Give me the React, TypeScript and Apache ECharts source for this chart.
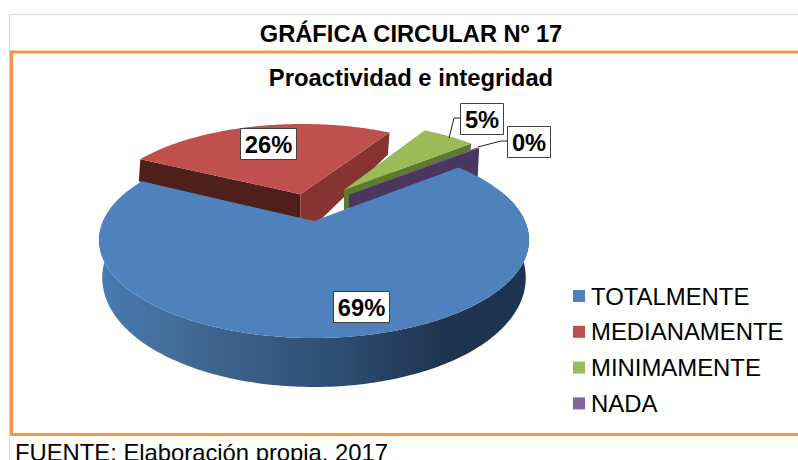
import React, { useEffect, useRef } from "react";
import * as echarts from "echarts";

const categories = ["TOTALMENTE", "MEDIANAMENTE", "MINIMAMENTE", "NADA"];
const values = [68.6, 26.0, 5.2, 0.2];
const colors = ["#4F81BD", "#C0504D", "#9BBB59", "#8064A2"];
const FONT = '"Liberation Sans", Arial, sans-serif';

// perspective disc -> screen
const CX = 314, CY = 221, RX0 = 210.9, RY0 = 94.3, K = 0.194;
const FIRST_ANGLE = 50.3;
const D2R = Math.PI / 180;

const project = (u: number, v: number) => {
  const d = 1 + K * v;
  return [CX + (RX0 * u) / d, CY - (RY0 * v) / d];
};
const projectBottom = (u: number, v: number) => {
  const d = 1 + K * v;
  const h = 35 - 14 * v;
  return [CX + (0.985 * RX0 * u) / d, CY - (RY0 * v) / d + h];
};

const total = values.reduce((a, b) => a + b, 0);
const angleRanges: number[][] = [];
values.reduce((acc, val) => {
  const next = acc + (val / total) * 360;
  angleRanges.push([acc, next]);
  return next;
}, FIRST_ANGLE);

// look of each slice (explosion in disc units, radial size, wall drops)
const sliceLook = [
  { ox: 0, oy: 0, r: 1 },
  { ox: -0.068, oy: 0.3, r: 0.985, tipDrop: 22, apexDrop: 45, startWall: "#4F1F1C", endWall: "#863331" },
  { ox: 0.152, oy: 0.351, r: 0.965, tipDrop: 18, apexDrop: 20, startWall: "#5E7A30", endWall: "#5E7A30" },
  { ox: 0.175, oy: 0.291, r: 0.97, tipDrop: 30, apexDrop: 30, startWall: "#4B3660", endWall: "#4B3660" },
];

const labelBoxes = [
  { x: 333, y: 291, w: 56, h: 31 },
  { x: 240, y: 128, w: 56, h: 31 },
  { x: 460, y: 103, w: 43, h: 31 },
  { x: 507, y: 126, w: 43, h: 31 },
];
const leaders: number[][][] = [
  [],
  [],
  [[460, 118], [454, 118], [449, 138]],
  [[507, 141], [501, 141], [478, 147]],
];

const arcPoints = (i: number, proj: (u: number, v: number) => number[]) => {
  const [a0, a1] = angleRanges[i];
  const L = sliceLook[i];
  const pts: number[][] = [];
  const steps = Math.max(2, Math.ceil(a1 - a0));
  for (let s = 0; s <= steps; s++) {
    const a = (a0 + ((a1 - a0) * s) / steps) * D2R;
    pts.push(proj(L.ox + L.r * Math.sin(a), L.oy + L.r * Math.cos(a)));
  }
  return pts;
};

const wall = (apex: number[], tip: number[], tipDrop: number, apexDrop: number, fill: string) => ({
  type: "polygon",
  shape: {
    points: [apex, tip, [tip[0] - 1.5, tip[1] + tipDrop], [apex[0], apex[1] + apexDrop]],
  },
  style: { fill },
  silent: true,
});

const renderSlice = (i: number) => () => {
  const L: any = sliceLook[i];
  const top = arcPoints(i, project);
  const apex = project(L.ox, L.oy);
  const children: any[] = [];

  if (i === 0) {
    const bottom = arcPoints(i, projectBottom);
    // only the near part of the rim is seen
    const [a0, a1] = angleRanges[0];
    const n = top.length - 1;
    const from = Math.round(((70 - a0) / (a1 - a0)) * n);
    const to = Math.round(((290 - a0) / (a1 - a0)) * n);
    children.push({
      type: "polygon",
      shape: {
        points: [...top.slice(from, to + 1), ...bottom.slice(from, to + 1).reverse()],
      },
      style: {
        fill: new echarts.graphic.LinearGradient(0, 0, 1, 0, [
          { offset: 0, color: "#4B7BB3" },
          { offset: 0.25, color: "#3F668F" },
          { offset: 0.55, color: "#2E4D73" },
          { offset: 0.8, color: "#1F3450" },
          { offset: 1, color: "#1E3350" },
        ]),
      },
      silent: true,
    });
  } else {
    const tipStart = top[0];
    const tipEnd = top[top.length - 1];
    children.push(wall(apex, tipStart, L.tipDrop, L.apexDrop, L.startWall));
    children.push(wall(apex, tipEnd, L.tipDrop, L.apexDrop, L.endWall));
  }

  children.push({
    type: "polygon",
    shape: { points: [apex, ...top] },
    style: { fill: colors[i] },
    silent: true,
  });

  if (leaders[i].length) {
    children.push({
      type: "polyline",
      shape: { points: leaders[i] },
      style: { fill: "none", stroke: "#222222", lineWidth: 1 },
      silent: true,
    });
  }

  const b = labelBoxes[i];
  children.push({
    type: "rect",
    shape: { x: b.x + 0.5, y: b.y + 0.5, width: b.w, height: b.h },
    style: { fill: "#FFFFFF", stroke: "#404040", lineWidth: 1 },
    silent: true,
  });
  children.push({
    type: "text",
    style: {
      x: b.x + b.w / 2 + 0.5,
      y: b.y + b.h / 2 + 1,
      text: `${Math.round(values[i])}%`,
      fill: "#000000",
      font: `bold 23.7px ${FONT}`,
      align: "center",
      verticalAlign: "middle",
    },
    silent: true,
  });
  return { type: "group", children };
};

export default function App() {
  const ref = useRef<HTMLDivElement>(null);
  useEffect(() => {
    document.body.style.margin = "0";
    const chart = echarts.init(ref.current!, null, { renderer: "svg" });
    const drawOrder = [1, 2, 3, 0];
    chart.setOption({
      animation: false,
      backgroundColor: "#FFFFFF",
      textStyle: { fontFamily: FONT },
      title: [
        {
          text: "GRÁFICA CIRCULAR Nº 17",
          left: 411,
          top: 34,
          textAlign: "center",
          textVerticalAlign: "middle",
          textStyle: { fontFamily: FONT, fontSize: 23.7, fontWeight: "bold", color: "#000000" },
          padding: 0,
        },
        {
          text: "Proactividad e integridad",
          left: 411,
          top: 77,
          textAlign: "center",
          textVerticalAlign: "middle",
          textStyle: { fontFamily: FONT, fontSize: 23.8, fontWeight: "bold", color: "#000000" },
          padding: 0,
        },
      ],
      legend: {
        orient: "vertical",
        left: 573,
        top: 282,
        padding: 0,
        itemWidth: 12,
        itemHeight: 12,
        itemGap: 7.8,
        icon: "rect",
        selectedMode: false,
        data: categories,
        textStyle: { fontFamily: FONT, fontSize: 23.9, color: "#000000", padding: [0, 0, 0, 1], lineHeight: 28 },
      },
      graphic: [
        { type: "line", shape: { x1: 9.5, y1: 14.5, x2: 798, y2: 14.5 }, style: { stroke: "#D9D9D9", lineWidth: 1 }, silent: true },
        { type: "line", shape: { x1: 9.5, y1: 14.5, x2: 9.5, y2: 460 }, style: { stroke: "#D9D9D9", lineWidth: 1 }, silent: true },
        { type: "rect", shape: { x: 11.5, y: 52, width: 800, height: 382.5 }, style: { fill: "none", stroke: "#F79646", lineWidth: 3 }, silent: true },
        {
          type: "text",
          x: 15,
          y: 452,
          style: { text: "FUENTE: Elaboración propia, 2017", fill: "#000000", font: `23.8px ${FONT}`, align: "left", verticalAlign: "middle" },
          silent: true,
        },
      ],
      series: drawOrder.map((i) => ({
        type: "custom",
        name: categories[i],
        coordinateSystem: "none",
        data: [values[i]],
        itemStyle: { color: colors[i] },
        renderItem: renderSlice(i),
      })),
    });
    return () => chart.dispose();
  }, []);
  return <div ref={ref} style={{ width: 798, height: 460 }} />;
}
